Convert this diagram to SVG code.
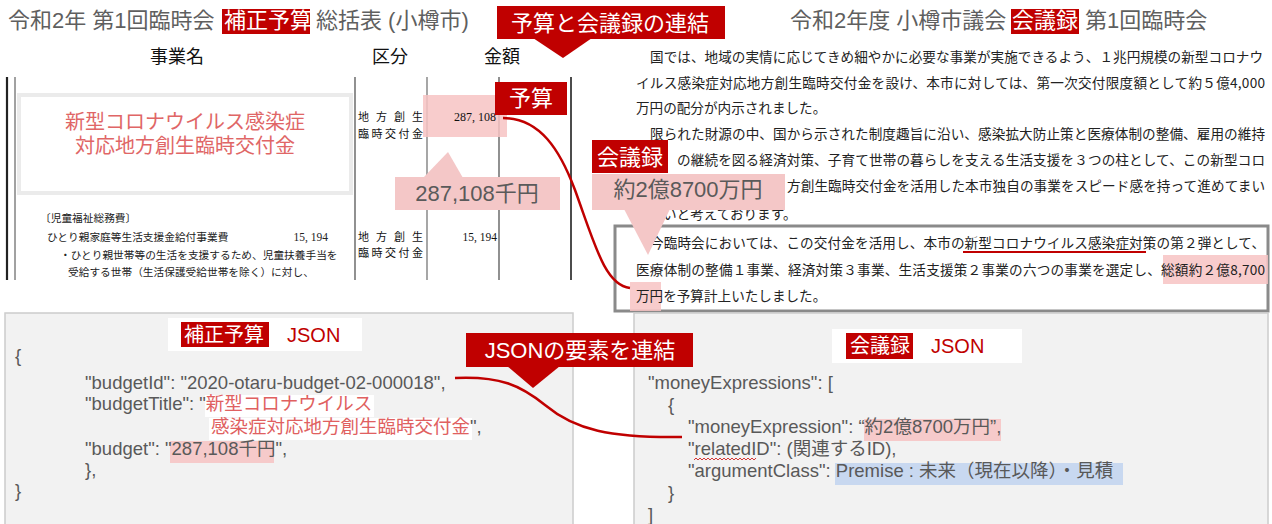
<svg xmlns="http://www.w3.org/2000/svg" width="1272" height="524" viewBox="0 0 1272 524">
<style>
.ttl{font-family:"Liberation Sans","Noto Sans CJK JP",sans-serif;font-size:22px;fill:#5f5f5f}
.hd{font-family:"Noto Sans CJK JP",sans-serif;font-size:18px;fill:#111}
.wt{fill:#fff}
.redbox{fill:#c00000}
.pinkbox{fill:#f4c7c7}
.hl{fill:#f7c3c3;fill-opacity:0.85}
.cw{font-family:"Liberation Sans","Noto Sans CJK JP",sans-serif;font-size:22px;fill:#fff;text-anchor:middle}
.cg{font-family:"Liberation Sans","Noto Sans CJK JP",sans-serif;font-size:22px;fill:#5a5a5a;text-anchor:middle}
.body{font-family:"Noto Sans CJK JP",sans-serif;font-size:13.6px;fill:#222}
.sm{font-family:"Noto Sans CJK JP",sans-serif;font-size:10.7px;fill:#222}
.tb{font-family:"Noto Sans CJK JP",sans-serif;font-size:11px;fill:#111}
.json{font-family:"Liberation Sans","Noto Sans CJK JP",sans-serif;font-size:18.5px;fill:#595959}
.jred{fill:#e06060}
.panel{fill:#f2f2f2;stroke:#cccccc;stroke-width:1.5}
.conn{fill:none;stroke:#c00000;stroke-width:2.5}
.vl{stroke:#555;stroke-width:1.3}
</style>

<g id="budget-title">
  <text class="ttl" x="8" y="28">令和2年 第1回臨時会</text>
  <rect class="redbox" x="222" y="9" width="88" height="25"/>
  <text class="ttl" x="224" y="28" style="fill:#fff">補正予算</text>
  <text class="ttl" x="316" y="28">総括表 (小樽市)</text>
</g>

<g id="minutes-title">
  <text class="ttl" x="790" y="28">令和2年度 小樽市議会</text>
  <rect class="redbox" x="1011" y="9" width="68" height="25"/>
  <text class="ttl" x="1012" y="28" style="fill:#fff">会議録</text>
  <text class="ttl" x="1085" y="28">第1回臨時会</text>
</g>

<g id="budget-table">
  <text class="hd" x="177" y="63" text-anchor="middle">事業名</text>
  <text class="hd" x="390" y="63" text-anchor="middle">区分</text>
  <text class="hd" x="502" y="63" text-anchor="middle">金額</text>
  <line x1="7" y1="77" x2="7" y2="280" stroke="#222" stroke-width="2.2"/>
  <line x1="15" y1="77" x2="15" y2="280" stroke="#444" stroke-width="1"/>
  <line class="vl" x1="355" y1="77" x2="355" y2="280"/>
  <line x1="427" y1="77" x2="427" y2="280" stroke="#777" stroke-width="1.3"/>
  <line class="vl" x1="499" y1="77" x2="499" y2="280"/>
  <line x1="571" y1="77" x2="571" y2="280" stroke="#111" stroke-width="1.5"/>
  <rect x="19" y="95" width="332" height="98" fill="#fff" stroke="#ebebeb" stroke-width="4"/>
  <text x="185" y="129" text-anchor="middle" style="font-family:'Liberation Sans','Noto Sans CJK JP',sans-serif;font-size:20px;fill:#e06666">新型コロナウイルス感染症</text>
  <text x="185" y="153" text-anchor="middle" style="font-family:'Liberation Sans','Noto Sans CJK JP',sans-serif;font-size:20px;fill:#e06666">対応地方創生臨時交付金</text>
  <rect class="hl" x="423" y="95" width="84" height="42"/>
  <text class="tb" x="358" y="121" textLength="65">地 方 創 生</text>
  <text class="tb" x="358" y="138" textLength="65">臨 時 交 付 金</text>
  <text class="tb" x="496" y="121" text-anchor="end" style="font-family:'Liberation Serif','Noto Sans CJK JP',serif;font-size:12px">287, 108</text>
  <text class="sm" x="40" y="222">〔児童福祉総務費〕</text>
  <text class="sm" x="47" y="241">ひとり親家庭等生活支援金給付事業費</text>
  <text class="sm" x="328" y="241" text-anchor="end" style="font-family:'Liberation Serif',serif;font-size:11.5px">15, 194</text>
  <text class="sm" x="60" y="259">・ひとり親世帯等の生活を支援するため、児童扶養手当を</text>
  <text class="sm" x="68" y="276">受給する世帯（生活保護受給世帯を除く）に対し、</text>
  <text class="tb" x="358" y="241" textLength="65">地 方 創 生</text>
  <text class="tb" x="358" y="257" textLength="65">臨 時 交 付 金</text>
  <text class="tb" x="497" y="241" text-anchor="end" style="font-family:'Liberation Serif',serif;font-size:11.5px">15, 194</text>
</g>

<g id="minutes-text">
  <text class="body" x="650" y="62" textLength="613">国では、地域の実情に応じてきめ細やかに必要な事業が実施できるよう、１兆円規模の新型コロナウ</text>
  <text class="body" x="636" y="88" textLength="629">イルス感染症対応地方創生臨時交付金を設け、本市に対しては、第一次交付限度額として約５億4,000</text>
  <text class="body" x="636" y="113">万円の配分が内示されました。</text>
  <text class="body" x="650" y="139" textLength="615">限られた財源の中、国から示された制度趣旨に沿い、感染拡大防止策と医療体制の整備、雇用の維持</text>
  <text class="body" x="677" y="165" textLength="588">の継続を図る経済対策、子育て世帯の暮らしを支える生活支援を３つの柱として、この新型コロ</text>
  <text class="body" x="787" y="191" textLength="478">方創生臨時交付金を活用した本市独自の事業をスピード感を持って進めてまい</text>
  <text class="body" x="663" y="219">いと考えております。</text>
  <rect x="615" y="226" width="653" height="85" fill="none" stroke="#8a8a8a" stroke-width="3"/>
  <rect class="hl" x="1163" y="255" width="105" height="29"/>
  <rect class="hl" x="630" y="282" width="31" height="29"/>
  <text class="body" x="650" y="248" textLength="615">今臨時会においては、この交付金を活用し、本市の新型コロナウイルス感染症対策の第２弾として、</text>
  <line x1="963" y1="252" x2="1146" y2="252" stroke="#c00000" stroke-width="1.8"/>
  <text class="body" x="636" y="275" textLength="629">医療体制の整備１事業、経済対策３事業、生活支援策２事業の六つの事業を選定し、総額約２億8,700</text>
  <text class="body" x="636" y="301">万円を予算計上いたしました。</text>
</g>

<g id="callout-link">
  <rect class="redbox" x="497" y="6" width="228" height="33"/>
  <polygon class="redbox" points="533,38 592,38 563,58"/>
  <text class="cw" x="610" y="31">予算と会議録の連結</text>
</g>

<g id="callout-budget">
  <rect class="redbox" x="495" y="82" width="72" height="33"/>
  <text class="cw" x="531" y="106">予算</text>
</g>

<g id="callout-budget-value">
  <polygon class="pinkbox" points="423,178 448,152 463,178"/>
  <rect class="pinkbox" x="395" y="177" width="165" height="33"/>
  <text class="cg" x="477" y="201">287,108千円</text>
</g>

<g id="callout-minutes">
  <rect class="redbox" x="592" y="140" width="76" height="33"/>
  <text class="cw" x="630" y="165">会議録</text>
</g>

<g id="callout-minutes-value">
  <rect class="pinkbox" x="592" y="174" width="193" height="36"/>
  <polygon class="pinkbox" points="624,209 670,209 648,255"/>
  <text class="cg" x="688" y="197">約2億8700万円</text>
</g>

<g id="budget-json">
  <rect class="panel" x="5" y="313" width="568" height="215"/>
  <rect class="wt" x="168" y="318" width="194" height="33"/>
  <rect class="redbox" x="181" y="322" width="88" height="25"/>
  <text x="184" y="342" style="font-family:'Liberation Sans','Noto Sans CJK JP',sans-serif;font-size:20px;fill:#fff">補正予算</text>
  <text x="287" y="342" style="font-family:'Liberation Sans',sans-serif;font-size:20px;fill:#c00000">JSON</text>
  <rect class="wt" x="205" y="395" width="169" height="22"/>
  <rect class="wt" x="209" y="418" width="263" height="22"/>
  <rect class="hl" x="170" y="441" width="104" height="22"/>
  <text class="json" x="15" y="362">{</text>
  <text class="json" x="85" y="389">"budgetId": "2020-otaru-budget-02-000018",</text>
  <text class="json" x="85" y="410">"budgetTitle": "<tspan class="jred">新型コロナウイルス</tspan></text>
  <text class="json" x="211" y="433"><tspan class="jred">感染症対応地方創生臨時交付金</tspan>",</text>
  <text class="json" x="85" y="455">"budget": "287,108千円",</text>
  <text class="json" x="85" y="476">},</text>
  <text class="json" x="15" y="497">}</text>
</g>

<g id="minutes-json">
  <rect class="panel" x="634" y="313" width="634" height="215"/>
  <rect class="wt" x="832" y="329" width="190" height="34"/>
  <rect class="redbox" x="846" y="333" width="67" height="26"/>
  <text x="850" y="353" style="font-family:'Liberation Sans','Noto Sans CJK JP',sans-serif;font-size:20px;fill:#fff">会議録</text>
  <text x="931" y="353" style="font-family:'Liberation Sans',sans-serif;font-size:20px;fill:#c00000">JSON</text>
  <rect class="hl" x="864" y="419" width="137" height="22"/>
  <rect x="835" y="463" width="288" height="22" fill="#c8d8f0"/>
  <text class="json" x="648" y="389">"moneyExpressions": [</text>
  <text class="json" x="668" y="411">{</text>
  <text class="json" x="688" y="433">"moneyExpression": “約2億8700万円”,</text>
  <text class="json" x="688" y="455">"relatedID": (関連するID),</text>
  <path d="M694 460 l2 -2 l2 2 l2 -2 l2 2 l2 -2 l2 2 l2 -2 l2 2 l2 -2 l2 2 l2 -2 l2 2 l2 -2 l2 2 l2 -2 l2 2 l2 -2 l2 2 l2 -2 l2 2 l2 -2 l2 2 l2 -2 l2 2 l2 -2 l2 2 l2 -2 l2 2 l2 -2 l2 2 l2 -2" fill="none" stroke="#d02020" stroke-width="0.9"/>
  <text class="json" x="688" y="477">"argumentClass": Premise : 未来（現在以降）・見積</text>
  <text class="json" x="668" y="499">}</text>
  <text class="json" x="648" y="521">]</text>
</g>

<g id="callout-json-link">
  <rect class="redbox" x="466" y="333" width="227" height="34"/>
  <polygon class="redbox" points="507,366 560,366 533,388"/>
  <text class="cw" x="580" y="358">JSONの要素を連結</text>
</g>

<g id="connectors">
  <path class="conn" d="M503 118 C540 118 560 150 575 190 C595 245 605 285 630 288"/>
  <path class="conn" d="M455 378 C500 376 520 385 545 405 C575 430 610 438 682 437"/>
</g>
</svg>
